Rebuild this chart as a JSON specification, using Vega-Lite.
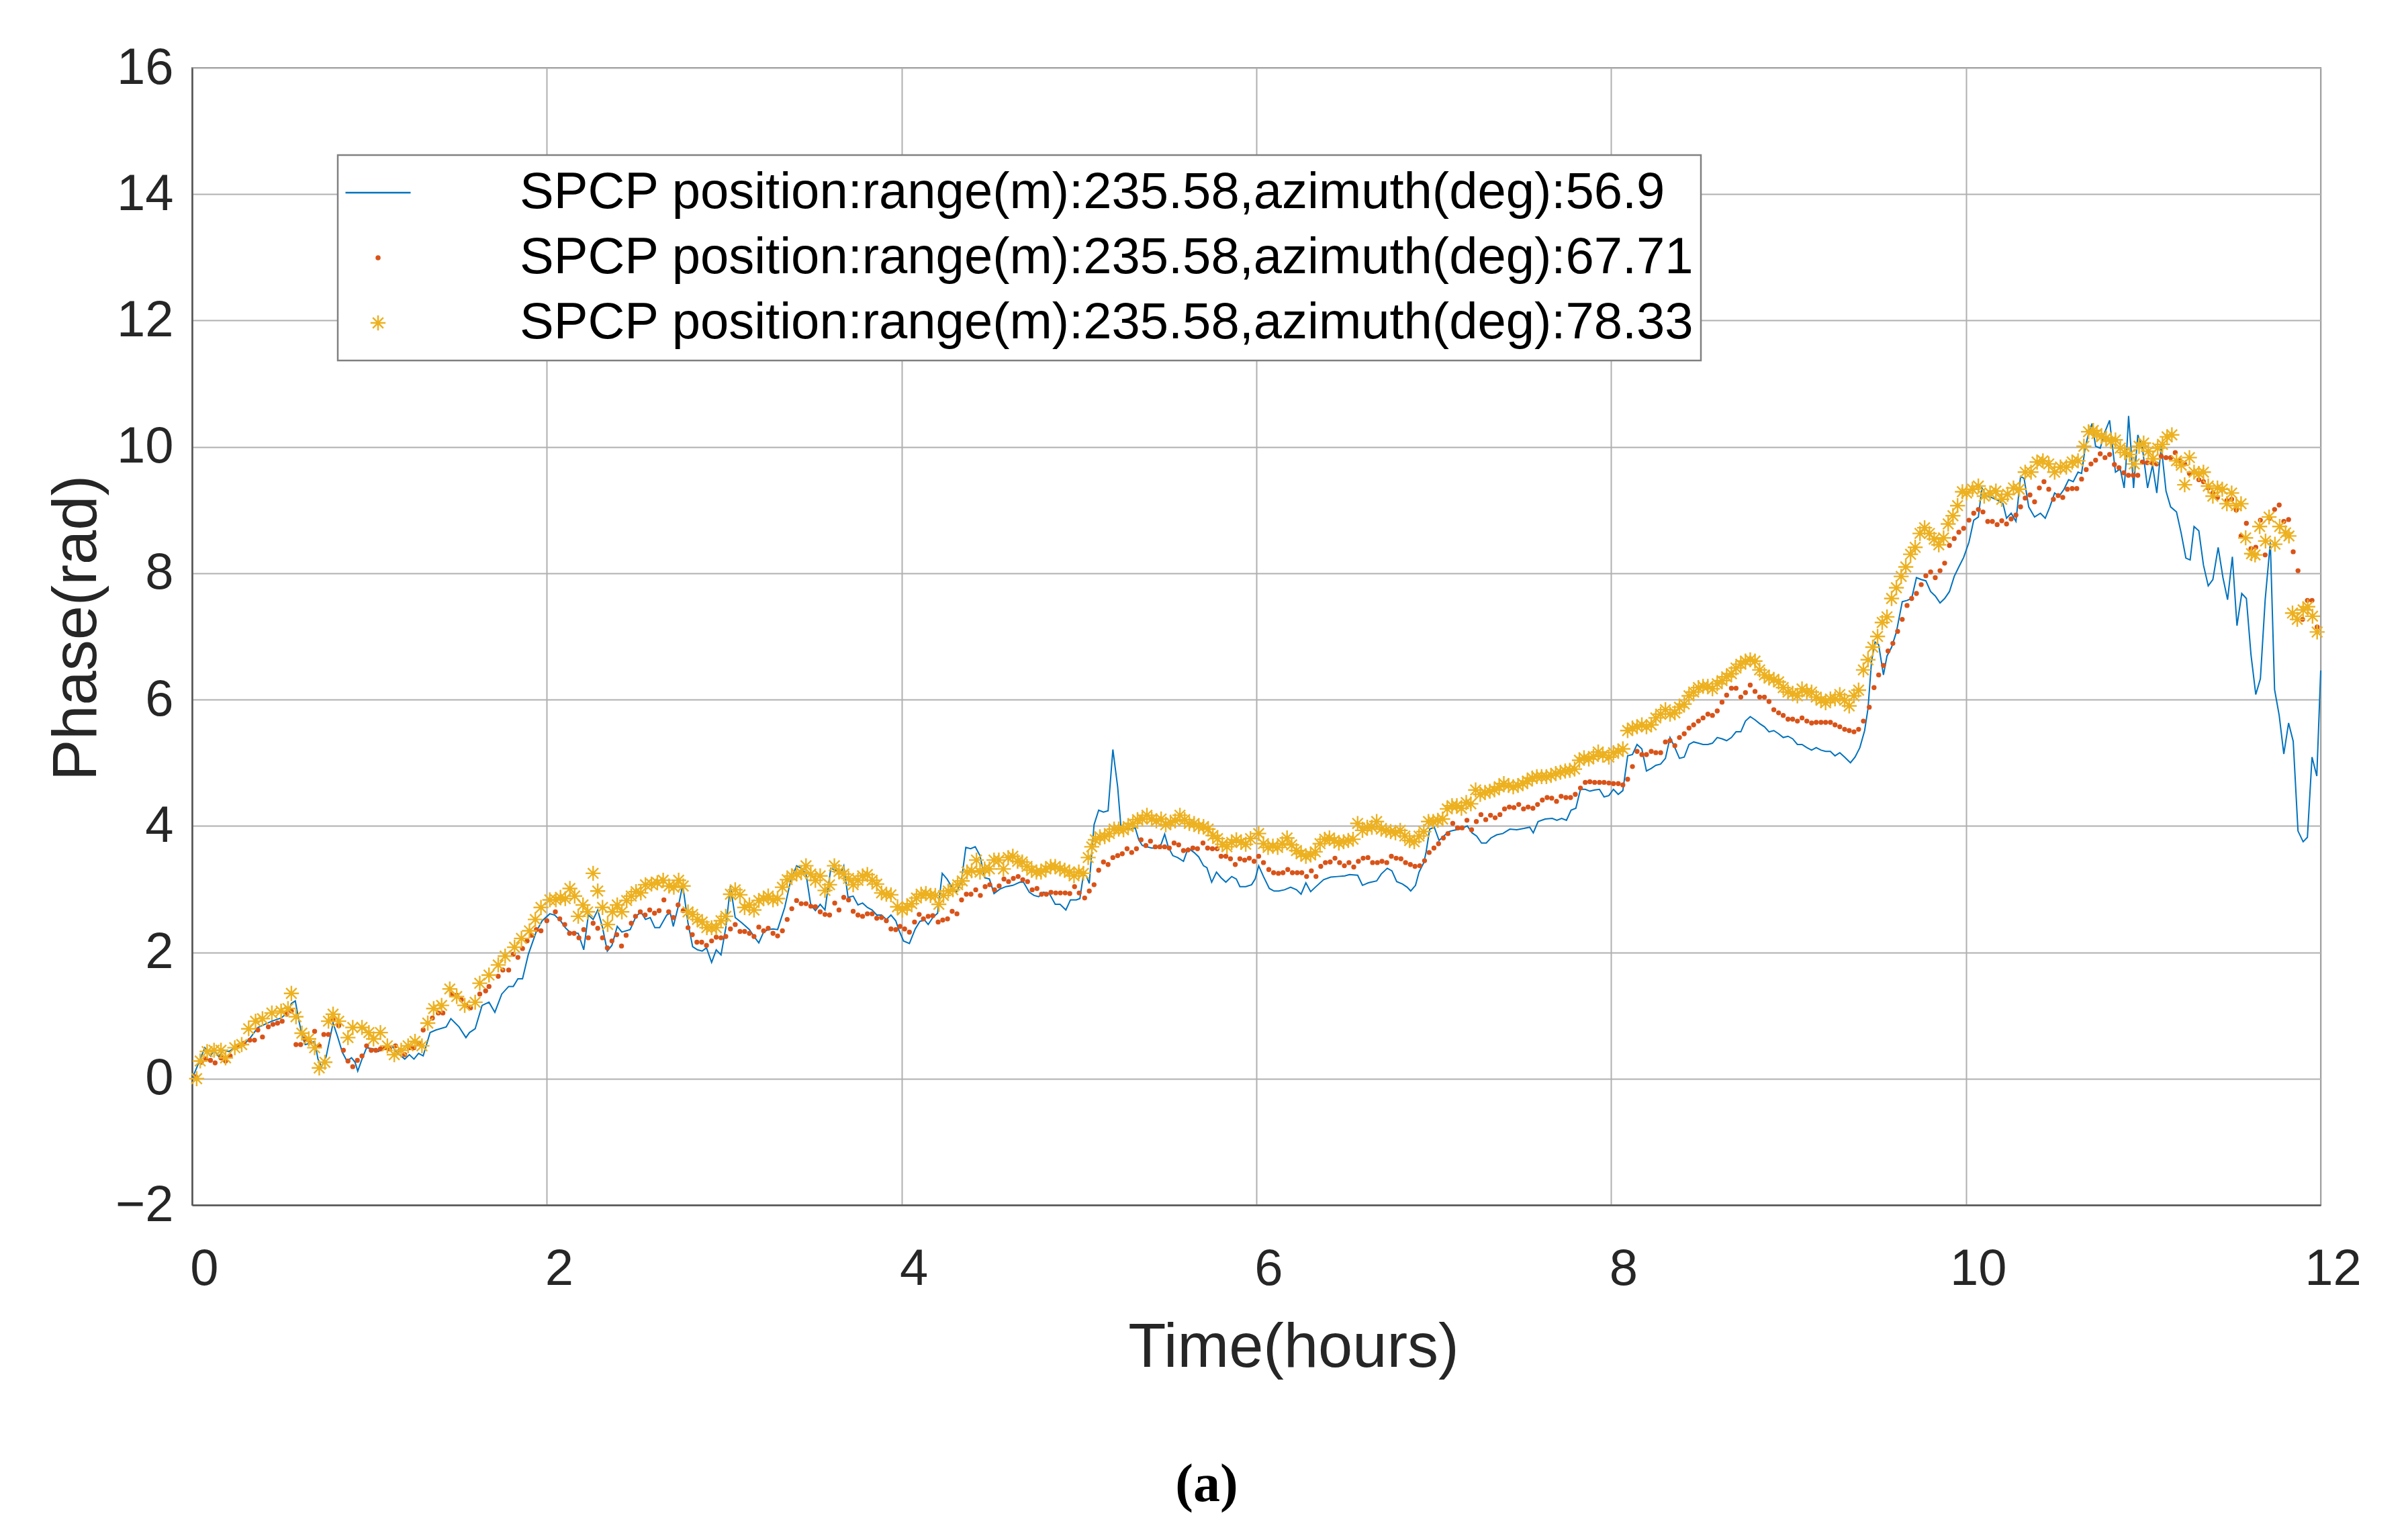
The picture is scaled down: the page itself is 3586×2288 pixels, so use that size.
{
"$schema": "https://vega.github.io/schema/vega-lite/v6.json",
"width": 3170,
"height": 1694,
"autosize": {"type": "none"},
"padding": {"left": 286, "top": 101, "right": 130, "bottom": 493},
"background": "white",
"title": {"text": "(a)", "orient": "bottom", "anchor": "middle", "frame": "group", "font": "Liberation Serif", "fontSize": 80, "fontWeight": "bold", "color": "#000000", "offset": 120, "dx": -74},
"config": {
"font": "Liberation Sans",
"view": {"stroke": "#808080", "strokeWidth": 2},
"axis": {"labelFont": "Liberation Sans", "titleFont": "Liberation Sans", "labelFontSize": 76, "titleFontSize": 92, "titleFontWeight": "normal", "labelColor": "#262626", "titleColor": "#262626", "gridColor": "#b0b0b0", "gridWidth": 2, "gridOpacity": 1, "domainColor": "#555555", "domainWidth": 2.5, "ticks": false},
"legend": {"strokeWidth": 2.5}
},
"datasets": {
"s1": [
{"t":0,"v":0},{"t":0.039,"v":0.26},{"t":0.072,"v":0.49},{"t":0.104,"v":0.36},{"t":0.124,"v":0.45},{"t":0.150,"v":0.35},{"t":0.176,"v":0.45},{"t":0.208,"v":0.43},{"t":0.241,"v":0.49},{"t":0.293,"v":0.54},{"t":0.332,"v":0.66},{"t":0.371,"v":0.81},{"t":0.410,"v":0.86},{"t":0.450,"v":0.91},{"t":0.502,"v":0.96},{"t":0.541,"v":1.05},{"t":0.560,"v":1.19},{"t":0.582,"v":1.23},{"t":0.603,"v":0.91},{"t":0.619,"v":0.70},{"t":0.638,"v":0.54},{"t":0.665,"v":0.56},{"t":0.691,"v":0.59},{"t":0.710,"v":0.31},{"t":0.730,"v":0.19},{"t":0.756,"v":0.35},{"t":0.795,"v":0.88},{"t":0.821,"v":0.66},{"t":0.847,"v":0.42},{"t":0.873,"v":0.28},{"t":0.899,"v":0.33},{"t":0.919,"v":0.26},{"t":0.934,"v":0.12},{"t":0.958,"v":0.31},{"t":0.984,"v":0.49},{"t":1.023,"v":0.47},{"t":1.049,"v":0.43},{"t":1.088,"v":0.49},{"t":1.127,"v":0.52},{"t":1.153,"v":0.42},{"t":1.199,"v":0.31},{"t":1.225,"v":0.38},{"t":1.251,"v":0.31},{"t":1.277,"v":0.40},{"t":1.303,"v":0.36},{"t":1.342,"v":0.73},{"t":1.375,"v":0.77},{"t":1.433,"v":0.82},{"t":1.459,"v":0.95},{"t":1.505,"v":0.82},{"t":1.544,"v":0.65},{"t":1.564,"v":0.73},{"t":1.596,"v":0.79},{"t":1.635,"v":1.16},{"t":1.674,"v":1.21},{"t":1.707,"v":1.05},{"t":1.746,"v":1.34},{"t":1.785,"v":1.46},{"t":1.811,"v":1.46},{"t":1.837,"v":1.58},{"t":1.863,"v":1.58},{"t":1.896,"v":1.97},{"t":1.941,"v":2.33},{"t":1.974,"v":2.50},
{"t":2.017,"v":2.61},{"t":2.044,"v":2.59},{"t":2.077,"v":2.50},{"t":2.104,"v":2.39},{"t":2.130,"v":2.32},{"t":2.177,"v":2.30},{"t":2.208,"v":2.04},{"t":2.234,"v":2.59},{"t":2.261,"v":2.52},{"t":2.287,"v":2.67},{"t":2.314,"v":2.39},{"t":2.341,"v":2.02},{"t":2.367,"v":2.11},{"t":2.397,"v":2.41},{"t":2.423,"v":2.32},{"t":2.470,"v":2.36},{"t":2.503,"v":2.57},{"t":2.530,"v":2.64},{"t":2.556,"v":2.52},{"t":2.583,"v":2.55},{"t":2.609,"v":2.39},{"t":2.636,"v":2.39},{"t":2.676,"v":2.59},{"t":2.696,"v":2.62},{"t":2.713,"v":2.41},{"t":2.743,"v":2.75},{"t":2.766,"v":3.07},{"t":2.796,"v":2.46},{"t":2.822,"v":2.09},{"t":2.849,"v":2.04},{"t":2.876,"v":2.02},{"t":2.900,"v":2.07},{"t":2.929,"v":1.84},{"t":2.955,"v":2.04},{"t":2.982,"v":1.96},{"t":3.009,"v":2.39},{"t":3.035,"v":3.05},{"t":3.062,"v":2.55},{"t":3.102,"v":2.46},{"t":3.142,"v":2.36},{"t":3.168,"v":2.25},{"t":3.195,"v":2.15},{"t":3.222,"v":2.32},{"t":3.248,"v":2.36},{"t":3.275,"v":2.37},{"t":3.301,"v":2.36},{"t":3.341,"v":2.71},{"t":3.375,"v":3.14},{"t":3.408,"v":3.37},{"t":3.434,"v":3.33},{"t":3.461,"v":3.24},{"t":3.488,"v":2.75},{"t":3.514,"v":2.66},{"t":3.541,"v":2.76},{"t":3.568,"v":2.67},{"t":3.601,"v":3.33},{"t":3.627,"v":3.30},{"t":3.654,"v":3.24},{"t":3.674,"v":3.37},{"t":3.698,"v":2.87},{"t":3.727,"v":2.89},{"t":3.754,"v":2.75},{"t":3.780,"v":2.78},{"t":3.807,"v":2.71},{"t":3.834,"v":2.67},{"t":3.860,"v":2.59},{"t":3.887,"v":2.59},{"t":3.914,"v":2.52},{"t":3.940,"v":2.59},{"t":3.967,"v":2.50},{"t":3.985,"v":2.35},
{"t":4.011,"v":2.18},{"t":4.044,"v":2.14},{"t":4.077,"v":2.37},{"t":4.103,"v":2.49},{"t":4.130,"v":2.51},{"t":4.150,"v":2.44},{"t":4.176,"v":2.55},{"t":4.203,"v":2.62},{"t":4.229,"v":3.25},{"t":4.256,"v":3.16},{"t":4.282,"v":3.04},{"t":4.309,"v":2.95},{"t":4.336,"v":3.11},{"t":4.362,"v":3.66},{"t":4.389,"v":3.64},{"t":4.415,"v":3.67},{"t":4.442,"v":3.53},{"t":4.468,"v":3.18},{"t":4.495,"v":3.16},{"t":4.521,"v":2.93},{"t":4.554,"v":3.00},{"t":4.588,"v":3.04},{"t":4.627,"v":3.06},{"t":4.667,"v":3.11},{"t":4.687,"v":3.11},{"t":4.720,"v":2.95},{"t":4.747,"v":2.90},{"t":4.773,"v":2.88},{"t":4.800,"v":2.95},{"t":4.833,"v":2.93},{"t":4.866,"v":2.76},{"t":4.893,"v":2.76},{"t":4.926,"v":2.67},{"t":4.952,"v":2.83},{"t":4.985,"v":2.83},{"t":5.005,"v":2.85},{"t":5.025,"v":3.23},{"t":5.041,"v":3.21},{"t":5.058,"v":3.09},{"t":5.085,"v":4.02},{"t":5.111,"v":4.25},{"t":5.138,"v":4.22},{"t":5.164,"v":4.24},{"t":5.191,"v":5.21},{"t":5.218,"v":4.62},{"t":5.237,"v":3.97},{"t":5.264,"v":3.95},{"t":5.290,"v":3.95},{"t":5.317,"v":3.97},{"t":5.337,"v":3.78},{"t":5.357,"v":3.69},{"t":5.383,"v":3.67},{"t":5.410,"v":3.65},{"t":5.436,"v":3.65},{"t":5.463,"v":3.71},{"t":5.483,"v":3.87},{"t":5.503,"v":3.67},{"t":5.529,"v":3.53},{"t":5.556,"v":3.50},{"t":5.589,"v":3.44},{"t":5.615,"v":3.65},{"t":5.649,"v":3.58},{"t":5.675,"v":3.51},{"t":5.702,"v":3.37},{"t":5.721,"v":3.34},{"t":5.748,"v":3.11},{"t":5.775,"v":3.27},{"t":5.801,"v":3.18},{"t":5.828,"v":3.11},{"t":5.861,"v":3.20},{"t":5.887,"v":3.16},{"t":5.907,"v":3.04},{"t":5.940,"v":3.04},{"t":5.973,"v":3.07},{"t":5.993,"v":3.16},{"t":6.013,"v":3.37},
{"t":6.040,"v":3.20},{"t":6.073,"v":3.01},{"t":6.100,"v":2.97},{"t":6.126,"v":2.97},{"t":6.159,"v":2.99},{"t":6.193,"v":3.03},{"t":6.226,"v":2.99},{"t":6.252,"v":2.92},{"t":6.279,"v":3.10},{"t":6.306,"v":2.96},{"t":6.332,"v":3.03},{"t":6.379,"v":3.15},{"t":6.419,"v":3.19},{"t":6.458,"v":3.20},{"t":6.498,"v":3.21},{"t":6.525,"v":3.23},{"t":6.571,"v":3.22},{"t":6.598,"v":3.06},{"t":6.631,"v":3.10},{"t":6.678,"v":3.13},{"t":6.704,"v":3.24},{"t":6.738,"v":3.33},{"t":6.764,"v":3.29},{"t":6.791,"v":3.12},{"t":6.824,"v":3.08},{"t":6.850,"v":3.03},{"t":6.870,"v":2.97},{"t":6.897,"v":3.06},{"t":6.917,"v":3.27},{"t":6.944,"v":3.42},{"t":6.957,"v":3.59},{"t":6.977,"v":3.95},{"t":7.003,"v":3.98},{"t":7.030,"v":3.77},{"t":7.056,"v":3.84},{"t":7.083,"v":3.91},{"t":7.110,"v":3.93},{"t":7.149,"v":3.95},{"t":7.189,"v":4.00},{"t":7.216,"v":3.89},{"t":7.242,"v":3.84},{"t":7.269,"v":3.73},{"t":7.296,"v":3.73},{"t":7.322,"v":3.81},{"t":7.355,"v":3.86},{"t":7.389,"v":3.88},{"t":7.429,"v":3.95},{"t":7.468,"v":3.94},{"t":7.508,"v":3.96},{"t":7.541,"v":3.98},{"t":7.561,"v":3.89},{"t":7.588,"v":4.07},{"t":7.628,"v":4.11},{"t":7.668,"v":4.12},{"t":7.694,"v":4.09},{"t":7.721,"v":4.12},{"t":7.748,"v":4.09},{"t":7.774,"v":4.25},{"t":7.801,"v":4.28},{"t":7.827,"v":4.58},{"t":7.854,"v":4.58},{"t":7.880,"v":4.55},{"t":7.907,"v":4.57},{"t":7.934,"v":4.58},{"t":7.960,"v":4.46},{"t":7.987,"v":4.48},{"t":8.013,"v":4.58},
{"t":8.040,"v":4.50},{"t":8.066,"v":4.56},{"t":8.093,"v":5.11},{"t":8.120,"v":5.13},{"t":8.146,"v":5.29},{"t":8.173,"v":5.22},{"t":8.199,"v":4.87},{"t":8.226,"v":4.91},{"t":8.252,"v":4.96},{"t":8.279,"v":4.98},{"t":8.306,"v":5.07},{"t":8.332,"v":5.40},{"t":8.359,"v":5.24},{"t":8.385,"v":5.07},{"t":8.412,"v":5.09},{"t":8.439,"v":5.29},{"t":8.465,"v":5.33},{"t":8.492,"v":5.31},{"t":8.518,"v":5.29},{"t":8.545,"v":5.29},{"t":8.571,"v":5.31},{"t":8.598,"v":5.40},{"t":8.625,"v":5.38},{"t":8.651,"v":5.35},{"t":8.678,"v":5.40},{"t":8.704,"v":5.49},{"t":8.731,"v":5.49},{"t":8.757,"v":5.66},{"t":8.784,"v":5.73},{"t":8.811,"v":5.68},{"t":8.837,"v":5.62},{"t":8.864,"v":5.57},{"t":8.890,"v":5.49},{"t":8.917,"v":5.51},{"t":8.944,"v":5.46},{"t":8.970,"v":5.40},{"t":8.997,"v":5.42},{"t":9.023,"v":5.38},{"t":9.050,"v":5.29},{"t":9.076,"v":5.29},{"t":9.103,"v":5.24},{"t":9.130,"v":5.20},{"t":9.156,"v":5.24},{"t":9.183,"v":5.20},{"t":9.209,"v":5.18},{"t":9.236,"v":5.18},{"t":9.262,"v":5.11},{"t":9.289,"v":5.16},{"t":9.316,"v":5.09},{"t":9.349,"v":5.00},{"t":9.375,"v":5.09},{"t":9.402,"v":5.24},{"t":9.429,"v":5.51},{"t":9.448,"v":5.86},{"t":9.468,"v":6.61},{"t":9.488,"v":6.91},{"t":9.508,"v":6.87},{"t":9.535,"v":6.39},{"t":9.555,"v":6.69},{"t":9.581,"v":6.83},{"t":9.608,"v":7.07},{"t":9.641,"v":7.55},{"t":9.668,"v":7.57},{"t":9.694,"v":7.60},{"t":9.721,"v":7.93},{"t":9.748,"v":7.90},{"t":9.774,"v":7.88},{"t":9.801,"v":7.71},{"t":9.827,"v":7.64},{"t":9.854,"v":7.53},{"t":9.880,"v":7.60},{"t":9.907,"v":7.71},{"t":9.934,"v":7.95},{"t":9.960,"v":8.10},{"t":9.987,"v":8.25},
{"t":10.017,"v":8.49},{"t":10.044,"v":8.84},{"t":10.070,"v":8.89},{"t":10.090,"v":9.35},{"t":10.116,"v":9.22},{"t":10.143,"v":9.20},{"t":10.182,"v":9.15},{"t":10.209,"v":9.10},{"t":10.229,"v":8.87},{"t":10.255,"v":8.95},{"t":10.282,"v":8.82},{"t":10.308,"v":9.53},{"t":10.328,"v":9.50},{"t":10.354,"v":9.05},{"t":10.387,"v":8.89},{"t":10.420,"v":8.95},{"t":10.447,"v":8.87},{"t":10.473,"v":9.05},{"t":10.500,"v":9.27},{"t":10.526,"v":9.22},{"t":10.553,"v":9.33},{"t":10.579,"v":9.48},{"t":10.605,"v":9.45},{"t":10.632,"v":9.60},{"t":10.652,"v":9.58},{"t":10.672,"v":9.98},{"t":10.691,"v":10.21},{"t":10.711,"v":10.37},{"t":10.731,"v":10.01},{"t":10.757,"v":9.98},{"t":10.784,"v":10.24},{"t":10.810,"v":10.42},{"t":10.830,"v":9.91},{"t":10.843,"v":9.60},{"t":10.870,"v":9.65},{"t":10.892,"v":9.35},{"t":10.903,"v":9.76},{"t":10.917,"v":10.49},{"t":10.929,"v":10.04},{"t":10.945,"v":9.35},{"t":10.969,"v":10.19},{"t":10.995,"v":9.98},{"t":11.024,"v":9.35},{"t":11.052,"v":9.71},{"t":11.076,"v":9.27},{"t":11.101,"v":10.01},{"t":11.128,"v":9.30},{"t":11.154,"v":9.05},{"t":11.187,"v":8.97},{"t":11.213,"v":8.64},{"t":11.240,"v":8.24},{"t":11.264,"v":8.21},{"t":11.286,"v":8.74},{"t":11.313,"v":8.67},{"t":11.339,"v":8.13},{"t":11.366,"v":7.80},{"t":11.392,"v":7.90},{"t":11.422,"v":8.41},{"t":11.449,"v":7.93},{"t":11.475,"v":7.58},{"t":11.502,"v":8.26},{"t":11.528,"v":7.17},{"t":11.555,"v":7.68},{"t":11.581,"v":7.60},{"t":11.607,"v":6.71},{"t":11.634,"v":6.08},{"t":11.660,"v":6.33},{"t":11.687,"v":7.58},{"t":11.716,"v":8.49},{"t":11.740,"v":6.16},{"t":11.766,"v":5.75},{"t":11.792,"v":5.14},{"t":11.819,"v":5.63},{"t":11.845,"v":5.34},{"t":11.872,"v":3.92},{"t":11.901,"v":3.75},{"t":11.925,"v":3.82},{"t":11.951,"v":5.09},{"t":11.978,"v":4.79},{"t":12.0,"v":6.46}
],
"s2": [
{"t":0.020,"v":0.03},{"t":0.052,"v":0.26},{"t":0.078,"v":0.31},{"t":0.104,"v":0.29},{"t":0.130,"v":0.25},{"t":0.163,"v":0.33},{"t":0.189,"v":0.28},{"t":0.215,"v":0.36},{"t":0.261,"v":0.52},{"t":0.293,"v":0.56},{"t":0.326,"v":0.61},{"t":0.352,"v":0.61},{"t":0.371,"v":0.77},{"t":0.397,"v":0.66},{"t":0.430,"v":0.82},{"t":0.456,"v":0.86},{"t":0.482,"v":0.88},{"t":0.508,"v":0.91},{"t":0.534,"v":1.02},{"t":0.560,"v":1.07},{"t":0.586,"v":0.54},{"t":0.612,"v":0.54},{"t":0.638,"v":0.63},{"t":0.665,"v":0.58},{"t":0.691,"v":0.75},{"t":0.717,"v":0.52},{"t":0.743,"v":0.70},{"t":0.769,"v":0.70},{"t":0.795,"v":0.93},{"t":0.827,"v":0.84},{"t":0.853,"v":0.45},{"t":0.879,"v":0.28},{"t":0.906,"v":0.19},{"t":0.932,"v":0.29},{"t":0.958,"v":0.36},{"t":0.984,"v":0.52},{"t":1.010,"v":0.45},{"t":1.036,"v":0.45},{"t":1.062,"v":0.47},{"t":1.088,"v":0.49},{"t":1.114,"v":0.47},{"t":1.147,"v":0.52},{"t":1.173,"v":0.45},{"t":1.199,"v":0.38},{"t":1.225,"v":0.49},{"t":1.251,"v":0.49},{"t":1.277,"v":0.56},{"t":1.303,"v":0.77},{"t":1.355,"v":0.96},{"t":1.388,"v":1.04},{"t":1.414,"v":1.04},{"t":1.466,"v":1.34},{"t":1.492,"v":1.32},{"t":1.518,"v":1.25},{"t":1.544,"v":1.16},{"t":1.570,"v":1.12},{"t":1.622,"v":1.34},{"t":1.655,"v":1.39},{"t":1.674,"v":1.46},{"t":1.726,"v":1.62},{"t":1.752,"v":1.72},{"t":1.785,"v":1.72},{"t":1.811,"v":1.97},{"t":1.837,"v":1.92},{"t":1.863,"v":2.06},{"t":1.889,"v":2.18},{"t":1.915,"v":2.27},{"t":1.941,"v":2.36},{"t":1.967,"v":2.34},{"t":2.000,"v":2.50},
{"t":2.048,"v":2.64},{"t":2.073,"v":2.53},{"t":2.101,"v":2.44},{"t":2.128,"v":2.30},{"t":2.154,"v":2.30},{"t":2.181,"v":2.23},{"t":2.208,"v":2.36},{"t":2.234,"v":2.23},{"t":2.261,"v":2.46},{"t":2.287,"v":2.38},{"t":2.314,"v":2.23},{"t":2.341,"v":2.07},{"t":2.367,"v":2.18},{"t":2.394,"v":2.28},{"t":2.421,"v":2.10},{"t":2.447,"v":2.27},{"t":2.476,"v":2.46},{"t":2.500,"v":2.57},{"t":2.527,"v":2.64},{"t":2.554,"v":2.59},{"t":2.580,"v":2.67},{"t":2.607,"v":2.62},{"t":2.633,"v":2.66},{"t":2.660,"v":2.83},{"t":2.687,"v":2.64},{"t":2.713,"v":2.55},{"t":2.740,"v":2.75},{"t":2.769,"v":2.66},{"t":2.796,"v":2.39},{"t":2.820,"v":2.28},{"t":2.846,"v":2.16},{"t":2.873,"v":2.16},{"t":2.900,"v":2.11},{"t":2.929,"v":2.18},{"t":2.955,"v":2.24},{"t":2.982,"v":2.23},{"t":3.009,"v":2.25},{"t":3.035,"v":2.37},{"t":3.062,"v":2.44},{"t":3.089,"v":2.33},{"t":3.115,"v":2.33},{"t":3.142,"v":2.30},{"t":3.168,"v":2.25},{"t":3.195,"v":2.40},{"t":3.222,"v":2.34},{"t":3.248,"v":2.38},{"t":3.275,"v":2.30},{"t":3.301,"v":2.26},{"t":3.328,"v":2.34},{"t":3.355,"v":2.52},{"t":3.381,"v":2.69},{"t":3.408,"v":2.82},{"t":3.434,"v":2.77},{"t":3.461,"v":2.77},{"t":3.488,"v":2.73},{"t":3.514,"v":2.72},{"t":3.541,"v":2.64},{"t":3.568,"v":2.60},{"t":3.594,"v":2.59},{"t":3.623,"v":2.78},{"t":3.647,"v":2.67},{"t":3.674,"v":2.87},{"t":3.701,"v":2.83},{"t":3.727,"v":2.65},{"t":3.754,"v":2.59},{"t":3.780,"v":2.57},{"t":3.807,"v":2.61},{"t":3.834,"v":2.61},{"t":3.860,"v":2.54},{"t":3.887,"v":2.55},{"t":3.914,"v":2.50},{"t":3.940,"v":2.37},{"t":3.967,"v":2.36},
{"t":3.991,"v":2.41},{"t":4.017,"v":2.37},{"t":4.044,"v":2.32},{"t":4.073,"v":2.48},{"t":4.099,"v":2.60},{"t":4.123,"v":2.53},{"t":4.150,"v":2.57},{"t":4.176,"v":2.58},{"t":4.206,"v":2.48},{"t":4.232,"v":2.51},{"t":4.259,"v":2.53},{"t":4.285,"v":2.65},{"t":4.312,"v":2.61},{"t":4.338,"v":2.83},{"t":4.365,"v":2.92},{"t":4.391,"v":2.92},{"t":4.418,"v":2.99},{"t":4.444,"v":2.90},{"t":4.471,"v":3.04},{"t":4.497,"v":3.07},{"t":4.524,"v":2.99},{"t":4.550,"v":3.05},{"t":4.577,"v":3.16},{"t":4.603,"v":3.12},{"t":4.630,"v":3.17},{"t":4.657,"v":3.20},{"t":4.683,"v":3.15},{"t":4.710,"v":3.12},{"t":4.736,"v":2.99},{"t":4.763,"v":3.01},{"t":4.789,"v":2.92},{"t":4.816,"v":2.92},{"t":4.842,"v":2.95},{"t":4.869,"v":2.94},{"t":4.895,"v":2.94},{"t":4.922,"v":2.94},{"t":4.948,"v":2.93},{"t":4.975,"v":3.04},{"t":5.001,"v":2.94},{"t":5.032,"v":2.86},{"t":5.058,"v":2.97},{"t":5.085,"v":3.07},{"t":5.111,"v":3.30},{"t":5.138,"v":3.43},{"t":5.164,"v":3.39},{"t":5.191,"v":3.50},{"t":5.218,"v":3.53},{"t":5.244,"v":3.56},{"t":5.271,"v":3.64},{"t":5.297,"v":3.58},{"t":5.324,"v":3.64},{"t":5.350,"v":3.78},{"t":5.377,"v":3.69},{"t":5.403,"v":3.76},{"t":5.430,"v":3.67},{"t":5.456,"v":3.67},{"t":5.483,"v":3.67},{"t":5.509,"v":3.65},{"t":5.536,"v":3.73},{"t":5.562,"v":3.70},{"t":5.589,"v":3.61},{"t":5.615,"v":3.62},{"t":5.642,"v":3.65},{"t":5.668,"v":3.64},{"t":5.699,"v":3.73},{"t":5.725,"v":3.65},{"t":5.752,"v":3.64},{"t":5.779,"v":3.64},{"t":5.801,"v":3.52},{"t":5.828,"v":3.52},{"t":5.854,"v":3.48},{"t":5.881,"v":3.39},{"t":5.907,"v":3.48},{"t":5.934,"v":3.46},{"t":5.960,"v":3.49},{"t":5.987,"v":3.44},
{"t":6.013,"v":3.52},{"t":6.040,"v":3.42},{"t":6.070,"v":3.31},{"t":6.097,"v":3.26},{"t":6.124,"v":3.25},{"t":6.150,"v":3.26},{"t":6.177,"v":3.31},{"t":6.203,"v":3.26},{"t":6.230,"v":3.26},{"t":6.256,"v":3.26},{"t":6.283,"v":3.20},{"t":6.310,"v":3.29},{"t":6.336,"v":3.20},{"t":6.363,"v":3.36},{"t":6.389,"v":3.42},{"t":6.416,"v":3.43},{"t":6.443,"v":3.49},{"t":6.469,"v":3.42},{"t":6.496,"v":3.37},{"t":6.522,"v":3.42},{"t":6.549,"v":3.35},{"t":6.575,"v":3.44},{"t":6.602,"v":3.49},{"t":6.629,"v":3.50},{"t":6.655,"v":3.42},{"t":6.682,"v":3.42},{"t":6.708,"v":3.44},{"t":6.735,"v":3.42},{"t":6.761,"v":3.52},{"t":6.788,"v":3.49},{"t":6.815,"v":3.48},{"t":6.841,"v":3.42},{"t":6.868,"v":3.39},{"t":6.894,"v":3.36},{"t":6.921,"v":3.37},{"t":6.948,"v":3.45},{"t":6.974,"v":3.58},{"t":7.001,"v":3.65},{"t":7.027,"v":3.72},{"t":7.054,"v":3.81},{"t":7.080,"v":3.88},{"t":7.107,"v":4.04},{"t":7.134,"v":3.97},{"t":7.160,"v":3.97},{"t":7.187,"v":4.09},{"t":7.213,"v":3.94},{"t":7.240,"v":4.07},{"t":7.266,"v":4.18},{"t":7.293,"v":4.10},{"t":7.320,"v":4.17},{"t":7.346,"v":4.13},{"t":7.373,"v":4.18},{"t":7.399,"v":4.27},{"t":7.426,"v":4.30},{"t":7.452,"v":4.29},{"t":7.479,"v":4.34},{"t":7.506,"v":4.27},{"t":7.532,"v":4.30},{"t":7.559,"v":4.28},{"t":7.585,"v":4.34},{"t":7.612,"v":4.41},{"t":7.639,"v":4.45},{"t":7.665,"v":4.44},{"t":7.692,"v":4.39},{"t":7.718,"v":4.47},{"t":7.745,"v":4.45},{"t":7.771,"v":4.45},{"t":7.798,"v":4.50},{"t":7.827,"v":4.60},{"t":7.854,"v":4.69},{"t":7.880,"v":4.70},{"t":7.907,"v":4.69},{"t":7.934,"v":4.69},{"t":7.960,"v":4.69},{"t":7.987,"v":4.68},
{"t":8.013,"v":4.67},{"t":8.040,"v":4.67},{"t":8.066,"v":4.65},{"t":8.093,"v":4.74},{"t":8.120,"v":4.94},{"t":8.146,"v":5.18},{"t":8.173,"v":5.13},{"t":8.199,"v":5.13},{"t":8.226,"v":5.18},{"t":8.252,"v":5.16},{"t":8.279,"v":5.16},{"t":8.306,"v":5.33},{"t":8.332,"v":5.35},{"t":8.359,"v":5.27},{"t":8.385,"v":5.40},{"t":8.412,"v":5.46},{"t":8.439,"v":5.55},{"t":8.465,"v":5.60},{"t":8.492,"v":5.66},{"t":8.518,"v":5.71},{"t":8.545,"v":5.77},{"t":8.571,"v":5.75},{"t":8.598,"v":5.82},{"t":8.625,"v":5.96},{"t":8.651,"v":6.07},{"t":8.678,"v":6.18},{"t":8.704,"v":6.18},{"t":8.731,"v":6.04},{"t":8.757,"v":6.11},{"t":8.784,"v":6.23},{"t":8.811,"v":6.13},{"t":8.837,"v":6.04},{"t":8.864,"v":6.04},{"t":8.890,"v":5.97},{"t":8.917,"v":5.84},{"t":8.944,"v":5.79},{"t":8.970,"v":5.75},{"t":8.997,"v":5.69},{"t":9.023,"v":5.69},{"t":9.050,"v":5.66},{"t":9.076,"v":5.71},{"t":9.103,"v":5.66},{"t":9.130,"v":5.63},{"t":9.156,"v":5.64},{"t":9.183,"v":5.64},{"t":9.209,"v":5.64},{"t":9.236,"v":5.64},{"t":9.262,"v":5.60},{"t":9.289,"v":5.57},{"t":9.316,"v":5.53},{"t":9.342,"v":5.51},{"t":9.369,"v":5.49},{"t":9.395,"v":5.53},{"t":9.422,"v":5.66},{"t":9.455,"v":5.88},{"t":9.482,"v":6.19},{"t":9.508,"v":6.39},{"t":9.535,"v":6.54},{"t":9.561,"v":6.77},{"t":9.588,"v":6.89},{"t":9.615,"v":7.08},{"t":9.641,"v":7.27},{"t":9.668,"v":7.49},{"t":9.694,"v":7.60},{"t":9.721,"v":7.68},{"t":9.748,"v":7.82},{"t":9.774,"v":7.96},{"t":9.801,"v":8.02},{"t":9.827,"v":7.93},{"t":9.854,"v":8.04},{"t":9.880,"v":8.16},{"t":9.907,"v":8.44},{"t":9.934,"v":8.55},{"t":9.960,"v":8.65},{"t":9.987,"v":8.71},
{"t":10.017,"v":8.84},{"t":10.044,"v":8.95},{"t":10.070,"v":9.01},{"t":10.096,"v":8.97},{"t":10.123,"v":8.82},{"t":10.149,"v":8.82},{"t":10.176,"v":8.77},{"t":10.202,"v":8.83},{"t":10.229,"v":8.78},{"t":10.255,"v":8.86},{"t":10.282,"v":8.92},{"t":10.308,"v":9.05},{"t":10.334,"v":9.19},{"t":10.361,"v":9.24},{"t":10.387,"v":9.13},{"t":10.414,"v":9.35},{"t":10.440,"v":9.45},{"t":10.467,"v":9.33},{"t":10.493,"v":9.17},{"t":10.520,"v":9.23},{"t":10.546,"v":9.20},{"t":10.572,"v":9.33},{"t":10.599,"v":9.34},{"t":10.625,"v":9.34},{"t":10.652,"v":9.49},{"t":10.678,"v":9.64},{"t":10.705,"v":9.73},{"t":10.731,"v":9.79},{"t":10.757,"v":9.89},{"t":10.784,"v":9.83},{"t":10.810,"v":9.88},{"t":10.837,"v":9.72},{"t":10.863,"v":9.67},{"t":10.890,"v":9.59},{"t":10.916,"v":9.55},{"t":10.943,"v":9.55},{"t":10.969,"v":9.55},{"t":10.995,"v":9.76},{"t":11.022,"v":9.75},{"t":11.048,"v":9.75},{"t":11.075,"v":9.73},{"t":11.101,"v":9.85},{"t":11.128,"v":9.83},{"t":11.154,"v":9.83},{"t":11.180,"v":9.91},{"t":11.207,"v":9.78},{"t":11.233,"v":9.73},{"t":11.260,"v":9.58},{"t":11.286,"v":9.60},{"t":11.313,"v":9.48},{"t":11.339,"v":9.45},{"t":11.366,"v":9.35},{"t":11.392,"v":9.27},{"t":11.418,"v":9.20},{"t":11.445,"v":9.33},{"t":11.471,"v":9.15},{"t":11.498,"v":9.17},{"t":11.524,"v":9.00},{"t":11.551,"v":8.59},{"t":11.581,"v":8.79},{"t":11.607,"v":8.39},{"t":11.634,"v":8.41},{"t":11.660,"v":8.84},{"t":11.687,"v":8.29},{"t":11.713,"v":8.87},{"t":11.740,"v":9.01},{"t":11.766,"v":9.08},{"t":11.792,"v":8.82},{"t":11.819,"v":8.85},{"t":11.845,"v":8.34},{"t":11.872,"v":8.04},{"t":11.898,"v":7.27},{"t":11.925,"v":7.57},{"t":11.951,"v":7.57},{"t":11.980,"v":7.15}
],
"s3": [
{"t":0.026,"v":0.00},{"t":0.046,"v":0.28},{"t":0.085,"v":0.43},{"t":0.124,"v":0.45},{"t":0.163,"v":0.45},{"t":0.189,"v":0.33},{"t":0.241,"v":0.49},{"t":0.280,"v":0.54},{"t":0.319,"v":0.79},{"t":0.358,"v":0.91},{"t":0.397,"v":0.95},{"t":0.450,"v":1.04},{"t":0.502,"v":1.07},{"t":0.541,"v":1.11},{"t":0.560,"v":1.35},{"t":0.586,"v":0.98},{"t":0.619,"v":0.72},{"t":0.658,"v":0.63},{"t":0.691,"v":0.49},{"t":0.717,"v":0.17},{"t":0.749,"v":0.26},{"t":0.769,"v":0.91},{"t":0.795,"v":1.02},{"t":0.827,"v":0.91},{"t":0.879,"v":0.65},{"t":0.906,"v":0.81},{"t":0.958,"v":0.81},{"t":0.997,"v":0.73},{"t":1.023,"v":0.63},{"t":1.062,"v":0.73},{"t":1.101,"v":0.52},{"t":1.140,"v":0.38},{"t":1.179,"v":0.45},{"t":1.218,"v":0.52},{"t":1.257,"v":0.59},{"t":1.296,"v":0.52},{"t":1.329,"v":0.88},{"t":1.362,"v":1.11},{"t":1.407,"v":1.16},{"t":1.453,"v":1.42},{"t":1.492,"v":1.30},{"t":1.537,"v":1.16},{"t":1.596,"v":1.21},{"t":1.622,"v":1.51},{"t":1.674,"v":1.64},{"t":1.726,"v":1.80},{"t":1.765,"v":1.94},{"t":1.818,"v":2.08},{"t":1.857,"v":2.22},{"t":1.902,"v":2.34},{"t":1.935,"v":2.52},{"t":1.967,"v":2.71},
{"t":2.017,"v":2.83},{"t":2.051,"v":2.83},{"t":2.077,"v":2.87},{"t":2.104,"v":2.85},{"t":2.130,"v":3.01},{"t":2.157,"v":2.89},{"t":2.177,"v":2.57},{"t":2.204,"v":2.75},{"t":2.230,"v":2.64},{"t":2.261,"v":3.25},{"t":2.287,"v":2.97},{"t":2.314,"v":2.71},{"t":2.343,"v":2.44},{"t":2.370,"v":2.64},{"t":2.397,"v":2.75},{"t":2.423,"v":2.64},{"t":2.450,"v":2.82},{"t":2.476,"v":2.89},{"t":2.503,"v":2.96},{"t":2.530,"v":2.94},{"t":2.556,"v":3.07},{"t":2.590,"v":3.08},{"t":2.623,"v":3.10},{"t":2.656,"v":3.14},{"t":2.689,"v":3.05},{"t":2.716,"v":3.03},{"t":2.743,"v":3.14},{"t":2.769,"v":3.05},{"t":2.796,"v":2.64},{"t":2.822,"v":2.60},{"t":2.849,"v":2.52},{"t":2.876,"v":2.48},{"t":2.902,"v":2.39},{"t":2.929,"v":2.39},{"t":2.955,"v":2.39},{"t":2.982,"v":2.50},{"t":3.009,"v":2.57},{"t":3.035,"v":2.92},{"t":3.062,"v":2.99},{"t":3.089,"v":2.91},{"t":3.115,"v":2.71},{"t":3.142,"v":2.75},{"t":3.168,"v":2.67},{"t":3.195,"v":2.82},{"t":3.222,"v":2.85},{"t":3.248,"v":2.89},{"t":3.275,"v":2.83},{"t":3.301,"v":2.85},{"t":3.328,"v":3.03},{"t":3.355,"v":3.15},{"t":3.381,"v":3.21},{"t":3.408,"v":3.24},{"t":3.434,"v":3.26},{"t":3.461,"v":3.37},{"t":3.488,"v":3.24},{"t":3.514,"v":3.14},{"t":3.541,"v":3.21},{"t":3.568,"v":2.98},{"t":3.594,"v":3.07},{"t":3.621,"v":3.37},{"t":3.647,"v":3.28},{"t":3.674,"v":3.24},{"t":3.701,"v":3.17},{"t":3.727,"v":3.07},{"t":3.754,"v":3.14},{"t":3.780,"v":3.21},{"t":3.807,"v":3.23},{"t":3.834,"v":3.14},{"t":3.860,"v":3.08},{"t":3.887,"v":2.94},{"t":3.914,"v":2.92},{"t":3.940,"v":2.91},
{"t":3.977,"v":2.72},{"t":4.004,"v":2.67},{"t":4.031,"v":2.72},{"t":4.057,"v":2.77},{"t":4.084,"v":2.86},{"t":4.110,"v":2.92},{"t":4.137,"v":2.93},{"t":4.163,"v":2.90},{"t":4.190,"v":2.90},{"t":4.210,"v":2.76},{"t":4.236,"v":2.90},{"t":4.263,"v":2.97},{"t":4.289,"v":2.99},{"t":4.316,"v":3.07},{"t":4.342,"v":3.13},{"t":4.369,"v":3.27},{"t":4.395,"v":3.29},{"t":4.422,"v":3.46},{"t":4.442,"v":3.27},{"t":4.468,"v":3.32},{"t":4.495,"v":3.32},{"t":4.521,"v":3.46},{"t":4.548,"v":3.46},{"t":4.574,"v":3.32},{"t":4.601,"v":3.50},{"t":4.627,"v":3.52},{"t":4.654,"v":3.44},{"t":4.680,"v":3.43},{"t":4.707,"v":3.36},{"t":4.733,"v":3.30},{"t":4.760,"v":3.27},{"t":4.786,"v":3.27},{"t":4.813,"v":3.32},{"t":4.840,"v":3.36},{"t":4.866,"v":3.36},{"t":4.893,"v":3.32},{"t":4.919,"v":3.30},{"t":4.946,"v":3.27},{"t":4.972,"v":3.21},{"t":4.999,"v":3.27},{"t":5.025,"v":3.25},{"t":5.052,"v":3.50},{"t":5.072,"v":3.67},{"t":5.092,"v":3.78},{"t":5.118,"v":3.83},{"t":5.145,"v":3.83},{"t":5.171,"v":3.88},{"t":5.198,"v":3.95},{"t":5.224,"v":3.95},{"t":5.251,"v":3.94},{"t":5.277,"v":3.99},{"t":5.304,"v":4.04},{"t":5.330,"v":4.10},{"t":5.357,"v":4.11},{"t":5.383,"v":4.17},{"t":5.410,"v":4.11},{"t":5.436,"v":4.08},{"t":5.463,"v":4.11},{"t":5.489,"v":4.02},{"t":5.516,"v":4.06},{"t":5.542,"v":4.08},{"t":5.569,"v":4.17},{"t":5.596,"v":4.10},{"t":5.622,"v":4.04},{"t":5.649,"v":4.04},{"t":5.675,"v":3.99},{"t":5.702,"v":3.99},{"t":5.728,"v":3.95},{"t":5.755,"v":3.85},{"t":5.781,"v":3.80},{"t":5.808,"v":3.71},{"t":5.834,"v":3.67},{"t":5.861,"v":3.74},{"t":5.887,"v":3.78},{"t":5.914,"v":3.74},{"t":5.940,"v":3.71},{"t":5.967,"v":3.80},
{"t":6.013,"v":3.88},{"t":6.040,"v":3.72},{"t":6.066,"v":3.66},{"t":6.093,"v":3.68},{"t":6.120,"v":3.66},{"t":6.146,"v":3.72},{"t":6.173,"v":3.81},{"t":6.199,"v":3.70},{"t":6.226,"v":3.61},{"t":6.252,"v":3.56},{"t":6.279,"v":3.52},{"t":6.306,"v":3.54},{"t":6.332,"v":3.59},{"t":6.359,"v":3.72},{"t":6.385,"v":3.79},{"t":6.412,"v":3.81},{"t":6.439,"v":3.77},{"t":6.465,"v":3.73},{"t":6.492,"v":3.75},{"t":6.518,"v":3.77},{"t":6.545,"v":3.79},{"t":6.571,"v":4.04},{"t":6.598,"v":3.93},{"t":6.625,"v":3.98},{"t":6.651,"v":3.98},{"t":6.678,"v":4.07},{"t":6.704,"v":3.95},{"t":6.731,"v":3.93},{"t":6.757,"v":3.91},{"t":6.784,"v":3.89},{"t":6.811,"v":3.93},{"t":6.837,"v":3.84},{"t":6.864,"v":3.77},{"t":6.890,"v":3.75},{"t":6.917,"v":3.84},{"t":6.944,"v":3.91},{"t":6.970,"v":4.07},{"t":6.997,"v":4.07},{"t":7.023,"v":4.09},{"t":7.050,"v":4.11},{"t":7.076,"v":4.27},{"t":7.103,"v":4.32},{"t":7.130,"v":4.32},{"t":7.156,"v":4.28},{"t":7.183,"v":4.37},{"t":7.209,"v":4.35},{"t":7.236,"v":4.57},{"t":7.262,"v":4.50},{"t":7.289,"v":4.53},{"t":7.316,"v":4.55},{"t":7.342,"v":4.57},{"t":7.369,"v":4.62},{"t":7.395,"v":4.67},{"t":7.422,"v":4.64},{"t":7.448,"v":4.62},{"t":7.475,"v":4.64},{"t":7.502,"v":4.67},{"t":7.528,"v":4.71},{"t":7.555,"v":4.76},{"t":7.581,"v":4.78},{"t":7.608,"v":4.78},{"t":7.635,"v":4.78},{"t":7.661,"v":4.80},{"t":7.688,"v":4.83},{"t":7.714,"v":4.85},{"t":7.741,"v":4.87},{"t":7.767,"v":4.88},{"t":7.794,"v":4.90},{"t":7.821,"v":5.04},{"t":7.847,"v":5.08},{"t":7.874,"v":5.06},{"t":7.900,"v":5.10},{"t":7.927,"v":5.17},{"t":7.953,"v":5.12},
{"t":7.987,"v":5.09},{"t":8.013,"v":5.16},{"t":8.040,"v":5.18},{"t":8.066,"v":5.22},{"t":8.093,"v":5.51},{"t":8.120,"v":5.55},{"t":8.146,"v":5.57},{"t":8.173,"v":5.60},{"t":8.199,"v":5.57},{"t":8.226,"v":5.60},{"t":8.252,"v":5.71},{"t":8.279,"v":5.77},{"t":8.306,"v":5.84},{"t":8.332,"v":5.77},{"t":8.359,"v":5.79},{"t":8.385,"v":5.88},{"t":8.412,"v":5.93},{"t":8.439,"v":6.06},{"t":8.465,"v":6.12},{"t":8.492,"v":6.19},{"t":8.518,"v":6.21},{"t":8.545,"v":6.21},{"t":8.571,"v":6.17},{"t":8.598,"v":6.25},{"t":8.625,"v":6.30},{"t":8.651,"v":6.36},{"t":8.678,"v":6.41},{"t":8.704,"v":6.50},{"t":8.731,"v":6.56},{"t":8.757,"v":6.61},{"t":8.784,"v":6.63},{"t":8.811,"v":6.61},{"t":8.837,"v":6.47},{"t":8.864,"v":6.39},{"t":8.890,"v":6.34},{"t":8.917,"v":6.32},{"t":8.944,"v":6.28},{"t":8.970,"v":6.19},{"t":8.997,"v":6.12},{"t":9.023,"v":6.10},{"t":9.050,"v":6.06},{"t":9.076,"v":6.17},{"t":9.103,"v":6.12},{"t":9.130,"v":6.12},{"t":9.156,"v":6.04},{"t":9.183,"v":5.99},{"t":9.209,"v":5.95},{"t":9.236,"v":6.01},{"t":9.262,"v":6.01},{"t":9.289,"v":6.08},{"t":9.316,"v":5.99},{"t":9.342,"v":5.90},{"t":9.369,"v":6.06},{"t":9.395,"v":6.15},{"t":9.422,"v":6.47},{"t":9.448,"v":6.63},{"t":9.475,"v":6.83},{"t":9.502,"v":7.00},{"t":9.528,"v":7.22},{"t":9.555,"v":7.31},{"t":9.581,"v":7.60},{"t":9.608,"v":7.77},{"t":9.635,"v":7.95},{"t":9.661,"v":8.10},{"t":9.688,"v":8.30},{"t":9.714,"v":8.41},{"t":9.741,"v":8.63},{"t":9.767,"v":8.72},{"t":9.794,"v":8.63},{"t":9.821,"v":8.54},{"t":9.847,"v":8.45},{"t":9.874,"v":8.56},{"t":9.900,"v":8.78},{"t":9.927,"v":8.91},{"t":9.953,"v":9.07},{"t":9.980,"v":9.29},
{"t":10.004,"v":9.27},{"t":10.037,"v":9.33},{"t":10.070,"v":9.38},{"t":10.103,"v":9.22},{"t":10.136,"v":9.27},{"t":10.169,"v":9.30},{"t":10.202,"v":9.17},{"t":10.235,"v":9.25},{"t":10.268,"v":9.35},{"t":10.301,"v":9.33},{"t":10.334,"v":9.60},{"t":10.367,"v":9.60},{"t":10.401,"v":9.76},{"t":10.434,"v":9.78},{"t":10.467,"v":9.73},{"t":10.500,"v":9.60},{"t":10.533,"v":9.68},{"t":10.566,"v":9.68},{"t":10.599,"v":9.76},{"t":10.632,"v":9.78},{"t":10.665,"v":10.01},{"t":10.691,"v":10.24},{"t":10.718,"v":10.26},{"t":10.738,"v":10.21},{"t":10.764,"v":10.16},{"t":10.790,"v":10.14},{"t":10.817,"v":10.09},{"t":10.843,"v":10.11},{"t":10.870,"v":9.98},{"t":10.896,"v":9.91},{"t":10.923,"v":9.88},{"t":10.949,"v":9.73},{"t":10.976,"v":10.01},{"t":11.002,"v":10.06},{"t":11.028,"v":9.93},{"t":11.055,"v":9.81},{"t":11.081,"v":9.98},{"t":11.108,"v":10.04},{"t":11.134,"v":10.16},{"t":11.161,"v":10.19},{"t":11.187,"v":9.78},{"t":11.214,"v":9.71},{"t":11.233,"v":9.40},{"t":11.260,"v":9.83},{"t":11.286,"v":9.60},{"t":11.313,"v":9.58},{"t":11.339,"v":9.60},{"t":11.366,"v":9.38},{"t":11.392,"v":9.22},{"t":11.418,"v":9.35},{"t":11.445,"v":9.33},{"t":11.471,"v":9.10},{"t":11.498,"v":9.27},{"t":11.524,"v":9.07},{"t":11.551,"v":9.10},{"t":11.577,"v":8.56},{"t":11.610,"v":8.31},{"t":11.630,"v":8.29},{"t":11.656,"v":8.74},{"t":11.689,"v":8.51},{"t":11.709,"v":8.89},{"t":11.742,"v":8.46},{"t":11.769,"v":8.74},{"t":11.802,"v":8.64},{"t":11.821,"v":8.59},{"t":11.841,"v":7.37},{"t":11.868,"v":7.27},{"t":11.901,"v":7.42},{"t":11.927,"v":7.47},{"t":11.954,"v":7.32},{"t":11.980,"v":7.07}
]
},
"encoding": {
"x": {"field": "t", "type": "quantitative", "scale": {"domain": [0, 12], "nice": false, "zero": false},
  "axis": {"values": [0, 2, 4, 6, 8, 10, 12], "title": "Time(hours)", "labelPadding": 58, "labelOffset": 18, "labelFlush": false, "labelOverlap": false, "titleX": 1640, "titleY": 167, "titleBaseline": "top"}},
"y": {"field": "v", "type": "quantitative", "scale": {"domain": [-2, 16], "nice": false, "zero": false},
  "axis": {"values": [-2, 0, 2, 4, 6, 8, 10, 12, 14, 16], "title": "Phase(rad)", "labelPadding": 28, "labelOverlap": false, "labelFlush": false, "titleX": -125, "titleY": 834, "titleAngle": 270, "titleBaseline": "bottom"}}
},
"layer": [
{"data": {"name": "s1"}, "mark": {"type": "line", "color": "#0072BD", "strokeWidth": 2}},
{"data": {"name": "s2"}, "mark": {"type": "point", "filled": true, "opacity": 1, "strokeWidth": 2.4},
 "encoding": {
  "fill": {"datum": "67.71", "type": "nominal", "scale": {"domain": ["56.9", "67.71", "78.33"], "range": ["#0072BD", "#D95319", "#EDB120"]},
    "legend": {"title": null, "orient": "none", "legendX": 217, "legendY": 130, "direction": "vertical", "labelExpr": "'SPCP position:range(m):235.58,azimuth(deg):' + datum.label", "labelFont": "Liberation Sans", "labelFontSize": 76, "labelColor": "#000000", "labelLimit": 3000, "labelOffset": 161, "clipHeight": 92, "rowPadding": 5, "padding": 10, "strokeColor": "#808080", "fillColor": "#ffffff", "symbolStrokeWidth": 2.5, "symbolOpacity": 1}},
  "stroke": {"datum": "67.71", "type": "nominal", "scale": {"domain": ["56.9", "67.71", "78.33"], "range": ["#0072BD", "#D95319", "#EDB120"]}},
  "shape": {"datum": "67.71", "type": "nominal", "scale": {"domain": ["56.9", "67.71", "78.33"], "range": ["M-1,0L1,0", "circle", "M0,-1L0,1M-1,0L1,0M-0.7,-0.7L0.7,0.7M-0.7,0.7L0.7,-0.7"]}},
  "size": {"datum": "67.71", "type": "ordinal", "scale": {"type": "ordinal", "domain": ["56.9", "67.71", "78.33"], "range": [9409, 25, 500]}}
 }},
{"data": {"name": "s3"}, "mark": {"type": "point", "filled": true, "opacity": 1, "strokeWidth": 2.4},
 "encoding": {
  "fill": {"datum": "78.33", "type": "nominal", "scale": {"domain": ["56.9", "67.71", "78.33"], "range": ["#0072BD", "#D95319", "#EDB120"]},
    "legend": {"title": null, "orient": "none", "legendX": 217, "legendY": 130, "direction": "vertical", "labelExpr": "'SPCP position:range(m):235.58,azimuth(deg):' + datum.label", "labelFont": "Liberation Sans", "labelFontSize": 76, "labelColor": "#000000", "labelLimit": 3000, "labelOffset": 161, "clipHeight": 92, "rowPadding": 5, "padding": 10, "strokeColor": "#808080", "fillColor": "#ffffff", "symbolStrokeWidth": 2.5, "symbolOpacity": 1}},
  "stroke": {"datum": "78.33", "type": "nominal", "scale": {"domain": ["56.9", "67.71", "78.33"], "range": ["#0072BD", "#D95319", "#EDB120"]}},
  "shape": {"datum": "78.33", "type": "nominal", "scale": {"domain": ["56.9", "67.71", "78.33"], "range": ["M-1,0L1,0", "circle", "M0,-1L0,1M-1,0L1,0M-0.7,-0.7L0.7,0.7M-0.7,0.7L0.7,-0.7"]}},
  "size": {"datum": "78.33", "type": "ordinal", "scale": {"type": "ordinal", "domain": ["56.9", "67.71", "78.33"], "range": [9409, 25, 500]}}
 }}
]
}
